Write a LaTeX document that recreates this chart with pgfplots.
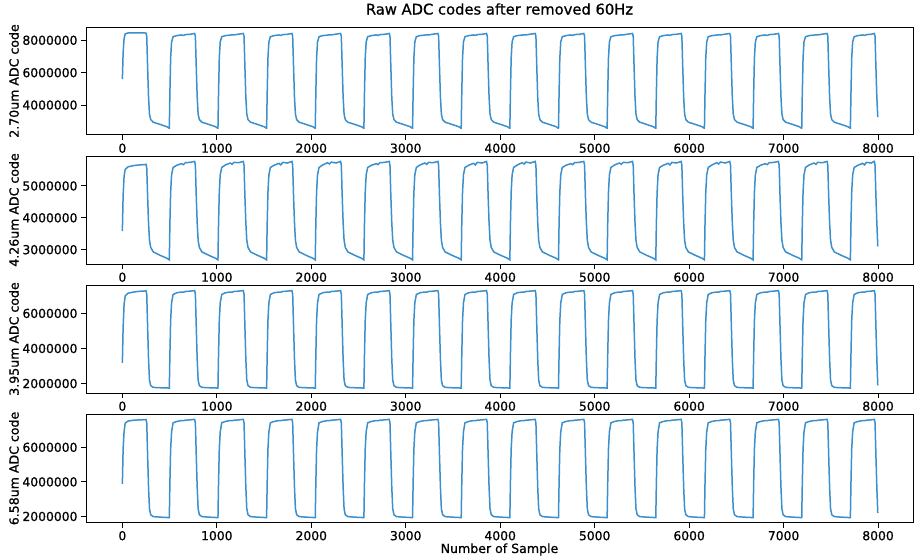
\documentclass[border=0pt]{standalone}
\usepackage{fontspec}
\setmainfont{DejaVu Sans}[RawFeature={embolden=0.8}]
\usepackage{pgfplots}
\pgfplotsset{compat=1.18}
\usepackage{pgfplotstable}
\definecolor{mplblue}{HTML}{3A8FCC}

% x = sample index; a..d = raw ADC codes of the four channels
\pgfplotstableread{
x a b c d
0 5600000 3580000 3180000 3880000
8 7200000 4700000 5200000 5900000
18 8100000 5300000 6500000 6900000
30 8400000 5520000 7000000 7400000
60 8450000 5600000 7150000 7520000
120 8450000 5640000 7220000 7570000
180 8450000 5660000 7260000 7590000
240 8450000 5670000 7280000 7600000
250 8440000 5680000 7290000 7610000
258 8250000 5570000 7100000 7420000
267 6400000 4700000 5300000 5600000
277 4500000 3850000 3400000 3700000
287 3450000 3300000 2200000 2450000
300 3100000 3070000 1880000 2100000
327 2940000 2930000 1780000 1990000
402 2800000 2820000 1760000 1960000
472 2660000 2730000 1750000 1940000
492 2580000 2690000 1740000 1930000
497 2580000 2680000 1740000 1930000
503 4700000 3800000 3600000 3900000
511 6900000 4800000 5600000 5900000
521 7900000 5350000 6600000 6900000
537 8220000 5580000 7080000 7420000
577 8290000 5650000 7180000 7500000
627 8330000 5700000 7220000 7550000
647 8300000 5670000 7210000 7540000
667 8350000 5730000 7250000 7570000
717 8370000 5740000 7270000 7590000
765 8420000 5770000 7300000 7620000
773 8250000 5650000 7100000 7420000
782 6400000 4700000 5300000 5600000
792 4500000 3850000 3400000 3700000
802 3450000 3300000 2200000 2450000
815 3100000 3070000 1880000 2100000
842 2940000 2930000 1780000 1990000
917 2800000 2820000 1760000 1960000
987 2660000 2730000 1750000 1940000
1007 2580000 2690000 1740000 1930000
1012 2580000 2680000 1740000 1930000
1018 4700000 3800000 3600000 3900000
1026 6900000 4800000 5600000 5900000
1036 7900000 5350000 6600000 6900000
1052 8220000 5580000 7080000 7420000
1092 8290000 5660000 7180000 7500000
1142 8320000 5720000 7220000 7550000
1162 8340000 5680000 7210000 7540000
1182 8330000 5740000 7250000 7570000
1232 8380000 5730000 7270000 7590000
1280 8420000 5770000 7300000 7620000
1288 8250000 5650000 7100000 7420000
1297 6400000 4700000 5300000 5600000
1307 4500000 3850000 3400000 3700000
1317 3450000 3300000 2200000 2450000
1330 3100000 3070000 1880000 2100000
1357 2940000 2930000 1780000 1990000
1432 2800000 2820000 1760000 1960000
1502 2660000 2730000 1750000 1940000
1522 2580000 2690000 1740000 1930000
1527 2580000 2680000 1740000 1930000
1533 4700000 3800000 3600000 3900000
1541 6900000 4800000 5600000 5900000
1551 7900000 5350000 6600000 6900000
1567 8220000 5580000 7080000 7420000
1607 8290000 5650000 7180000 7500000
1657 8330000 5710000 7220000 7550000
1677 8300000 5660000 7210000 7540000
1697 8350000 5740000 7250000 7570000
1747 8370000 5720000 7270000 7590000
1795 8420000 5770000 7300000 7620000
1803 8250000 5650000 7100000 7420000
1812 6400000 4700000 5300000 5600000
1822 4500000 3850000 3400000 3700000
1832 3450000 3300000 2200000 2450000
1845 3100000 3070000 1880000 2100000
1872 2940000 2930000 1780000 1990000
1947 2800000 2820000 1760000 1960000
2017 2660000 2730000 1750000 1940000
2037 2580000 2690000 1740000 1930000
2042 2580000 2680000 1740000 1930000
2048 4700000 3800000 3600000 3900000
2056 6900000 4800000 5600000 5900000
2066 7900000 5350000 6600000 6900000
2082 8220000 5580000 7080000 7420000
2122 8290000 5660000 7180000 7500000
2172 8320000 5730000 7220000 7550000
2192 8340000 5690000 7210000 7540000
2212 8330000 5750000 7250000 7570000
2262 8380000 5720000 7270000 7590000
2310 8420000 5770000 7300000 7620000
2318 8250000 5650000 7100000 7420000
2327 6400000 4700000 5300000 5600000
2337 4500000 3850000 3400000 3700000
2347 3450000 3300000 2200000 2450000
2360 3100000 3070000 1880000 2100000
2387 2940000 2930000 1780000 1990000
2462 2800000 2820000 1760000 1960000
2532 2660000 2730000 1750000 1940000
2552 2580000 2690000 1740000 1930000
2557 2580000 2680000 1740000 1930000
2563 4700000 3800000 3600000 3900000
2571 6900000 4800000 5600000 5900000
2581 7900000 5350000 6600000 6900000
2597 8220000 5580000 7080000 7420000
2637 8290000 5650000 7180000 7500000
2687 8330000 5700000 7220000 7550000
2707 8300000 5670000 7210000 7540000
2727 8350000 5730000 7250000 7570000
2777 8370000 5740000 7270000 7590000
2825 8420000 5770000 7300000 7620000
2833 8250000 5650000 7100000 7420000
2842 6400000 4700000 5300000 5600000
2852 4500000 3850000 3400000 3700000
2862 3450000 3300000 2200000 2450000
2875 3100000 3070000 1880000 2100000
2902 2940000 2930000 1780000 1990000
2977 2800000 2820000 1760000 1960000
3047 2660000 2730000 1750000 1940000
3067 2580000 2690000 1740000 1930000
3072 2580000 2680000 1740000 1930000
3078 4700000 3800000 3600000 3900000
3086 6900000 4800000 5600000 5900000
3096 7900000 5350000 6600000 6900000
3112 8220000 5580000 7080000 7420000
3152 8290000 5660000 7180000 7500000
3202 8320000 5720000 7220000 7550000
3222 8340000 5680000 7210000 7540000
3242 8330000 5740000 7250000 7570000
3292 8380000 5730000 7270000 7590000
3340 8420000 5770000 7300000 7620000
3348 8250000 5650000 7100000 7420000
3357 6400000 4700000 5300000 5600000
3367 4500000 3850000 3400000 3700000
3377 3450000 3300000 2200000 2450000
3390 3100000 3070000 1880000 2100000
3417 2940000 2930000 1780000 1990000
3492 2800000 2820000 1760000 1960000
3562 2660000 2730000 1750000 1940000
3582 2580000 2690000 1740000 1930000
3587 2580000 2680000 1740000 1930000
3593 4700000 3800000 3600000 3900000
3601 6900000 4800000 5600000 5900000
3611 7900000 5350000 6600000 6900000
3627 8220000 5580000 7080000 7420000
3667 8290000 5650000 7180000 7500000
3717 8330000 5710000 7220000 7550000
3737 8300000 5660000 7210000 7540000
3757 8350000 5740000 7250000 7570000
3807 8370000 5720000 7270000 7590000
3855 8420000 5770000 7300000 7620000
3863 8250000 5650000 7100000 7420000
3872 6400000 4700000 5300000 5600000
3882 4500000 3850000 3400000 3700000
3892 3450000 3300000 2200000 2450000
3905 3100000 3070000 1880000 2100000
3932 2940000 2930000 1780000 1990000
4007 2800000 2820000 1760000 1960000
4077 2660000 2730000 1750000 1940000
4097 2580000 2690000 1740000 1930000
4102 2580000 2680000 1740000 1930000
4108 4700000 3800000 3600000 3900000
4116 6900000 4800000 5600000 5900000
4126 7900000 5350000 6600000 6900000
4142 8220000 5580000 7080000 7420000
4182 8290000 5660000 7180000 7500000
4232 8320000 5730000 7220000 7550000
4252 8340000 5690000 7210000 7540000
4272 8330000 5750000 7250000 7570000
4322 8380000 5720000 7270000 7590000
4370 8420000 5770000 7300000 7620000
4378 8250000 5650000 7100000 7420000
4387 6400000 4700000 5300000 5600000
4397 4500000 3850000 3400000 3700000
4407 3450000 3300000 2200000 2450000
4420 3100000 3070000 1880000 2100000
4447 2940000 2930000 1780000 1990000
4522 2800000 2820000 1760000 1960000
4592 2660000 2730000 1750000 1940000
4612 2580000 2690000 1740000 1930000
4617 2580000 2680000 1740000 1930000
4623 4700000 3800000 3600000 3900000
4631 6900000 4800000 5600000 5900000
4641 7900000 5350000 6600000 6900000
4657 8220000 5580000 7080000 7420000
4697 8290000 5650000 7180000 7500000
4747 8330000 5700000 7220000 7550000
4767 8300000 5670000 7210000 7540000
4787 8350000 5730000 7250000 7570000
4837 8370000 5740000 7270000 7590000
4885 8420000 5770000 7300000 7620000
4893 8250000 5650000 7100000 7420000
4902 6400000 4700000 5300000 5600000
4912 4500000 3850000 3400000 3700000
4922 3450000 3300000 2200000 2450000
4935 3100000 3070000 1880000 2100000
4962 2940000 2930000 1780000 1990000
5037 2800000 2820000 1760000 1960000
5107 2660000 2730000 1750000 1940000
5127 2580000 2690000 1740000 1930000
5132 2580000 2680000 1740000 1930000
5138 4700000 3800000 3600000 3900000
5146 6900000 4800000 5600000 5900000
5156 7900000 5350000 6600000 6900000
5172 8220000 5580000 7080000 7420000
5212 8290000 5660000 7180000 7500000
5262 8320000 5720000 7220000 7550000
5282 8340000 5680000 7210000 7540000
5302 8330000 5740000 7250000 7570000
5352 8380000 5730000 7270000 7590000
5400 8420000 5770000 7300000 7620000
5408 8250000 5650000 7100000 7420000
5417 6400000 4700000 5300000 5600000
5427 4500000 3850000 3400000 3700000
5437 3450000 3300000 2200000 2450000
5450 3100000 3070000 1880000 2100000
5477 2940000 2930000 1780000 1990000
5552 2800000 2820000 1760000 1960000
5622 2660000 2730000 1750000 1940000
5642 2580000 2690000 1740000 1930000
5647 2580000 2680000 1740000 1930000
5653 4700000 3800000 3600000 3900000
5661 6900000 4800000 5600000 5900000
5671 7900000 5350000 6600000 6900000
5687 8220000 5580000 7080000 7420000
5727 8290000 5650000 7180000 7500000
5777 8330000 5710000 7220000 7550000
5797 8300000 5660000 7210000 7540000
5817 8350000 5740000 7250000 7570000
5867 8370000 5720000 7270000 7590000
5915 8420000 5770000 7300000 7620000
5923 8250000 5650000 7100000 7420000
5932 6400000 4700000 5300000 5600000
5942 4500000 3850000 3400000 3700000
5952 3450000 3300000 2200000 2450000
5965 3100000 3070000 1880000 2100000
5992 2940000 2930000 1780000 1990000
6067 2800000 2820000 1760000 1960000
6137 2660000 2730000 1750000 1940000
6157 2580000 2690000 1740000 1930000
6162 2580000 2680000 1740000 1930000
6168 4700000 3800000 3600000 3900000
6176 6900000 4800000 5600000 5900000
6186 7900000 5350000 6600000 6900000
6202 8220000 5580000 7080000 7420000
6242 8290000 5660000 7180000 7500000
6292 8320000 5730000 7220000 7550000
6312 8340000 5690000 7210000 7540000
6332 8330000 5750000 7250000 7570000
6382 8380000 5720000 7270000 7590000
6430 8420000 5770000 7300000 7620000
6438 8250000 5650000 7100000 7420000
6447 6400000 4700000 5300000 5600000
6457 4500000 3850000 3400000 3700000
6467 3450000 3300000 2200000 2450000
6480 3100000 3070000 1880000 2100000
6507 2940000 2930000 1780000 1990000
6582 2800000 2820000 1760000 1960000
6652 2660000 2730000 1750000 1940000
6672 2580000 2690000 1740000 1930000
6677 2580000 2680000 1740000 1930000
6683 4700000 3800000 3600000 3900000
6691 6900000 4800000 5600000 5900000
6701 7900000 5350000 6600000 6900000
6717 8220000 5580000 7080000 7420000
6757 8290000 5650000 7180000 7500000
6807 8330000 5700000 7220000 7550000
6827 8300000 5670000 7210000 7540000
6847 8350000 5730000 7250000 7570000
6897 8370000 5740000 7270000 7590000
6945 8420000 5770000 7300000 7620000
6953 8250000 5650000 7100000 7420000
6962 6400000 4700000 5300000 5600000
6972 4500000 3850000 3400000 3700000
6982 3450000 3300000 2200000 2450000
6995 3100000 3070000 1880000 2100000
7022 2940000 2930000 1780000 1990000
7097 2800000 2820000 1760000 1960000
7167 2660000 2730000 1750000 1940000
7187 2580000 2690000 1740000 1930000
7192 2580000 2680000 1740000 1930000
7198 4700000 3800000 3600000 3900000
7206 6900000 4800000 5600000 5900000
7216 7900000 5350000 6600000 6900000
7232 8220000 5580000 7080000 7420000
7272 8290000 5660000 7180000 7500000
7322 8320000 5720000 7220000 7550000
7342 8340000 5680000 7210000 7540000
7362 8330000 5740000 7250000 7570000
7412 8380000 5730000 7270000 7590000
7460 8420000 5770000 7300000 7620000
7468 8250000 5650000 7100000 7420000
7477 6400000 4700000 5300000 5600000
7487 4500000 3850000 3400000 3700000
7497 3450000 3300000 2200000 2450000
7510 3100000 3070000 1880000 2100000
7537 2940000 2930000 1780000 1990000
7612 2800000 2820000 1760000 1960000
7682 2660000 2730000 1750000 1940000
7702 2580000 2690000 1740000 1930000
7707 2580000 2680000 1740000 1930000
7713 4700000 3800000 3600000 3900000
7721 6900000 4800000 5600000 5900000
7731 7900000 5350000 6600000 6900000
7747 8220000 5580000 7080000 7420000
7787 8290000 5650000 7180000 7500000
7837 8330000 5710000 7220000 7550000
7857 8300000 5660000 7210000 7540000
7877 8350000 5740000 7250000 7570000
7927 8370000 5720000 7270000 7590000
7960 8420000 5770000 7300000 7620000
7968 8250000 5650000 7100000 7420000
7977 6400000 4700000 5300000 5600000
7987 4500000 3850000 3400000 3700000
7997 3250000 3100000 1900000 2200000
}\adcdata

\pgfplotsset{
  panel/.style={
    scale only axis, width=827bp, height=108bp,
    anchor=north west,
    xmin=-385, xmax=8370,
    xtick={0,1000,...,8000},
    xticklabels={0,1000,2000,3000,4000,5000,6000,7000,8000},
    scaled x ticks=false, scaled y ticks=false,
    tick align=outside, tick pos=left,
    major tick length=5bp,
    every tick/.style={black, line width=0.9bp},
    axis line style={black, line width=1bp},
    ticklabel style={font=\fontsize{12.4}{14}\selectfont},
    label style={font=\fontsize{12.6}{14}\selectfont},
    ylabel style={at={(axis description cs:-0.0871,0.5)}, anchor=center},
    xlabel style={at={(axis description cs:0.5,0)}, anchor=center, yshift=-27bp},
    /pgf/number format/assume math mode=true,
  },
  trace/.style={mplblue, line width=1.5bp, no markers},
}

\begin{document}
\begin{tikzpicture}
\useasboundingbox (0,0) rectangle (915bp,-557bp);

\begin{axis}[panel, at={(86bp,-27bp)},
  ymin=2150000, ymax=8820000,
  ytick={4000000,6000000,8000000},
  yticklabels={4000000,6000000,8000000},
  ylabel={2.70um ADC code},
  title={Raw ADC codes after removed 60Hz},
  title style={font=\fontsize{14.8}{17}\selectfont, at={(axis description cs:0.5,1)}, anchor=base, yshift=6.5bp}]
\addplot[trace] table[x=x, y=a] {\adcdata};
\end{axis}

\begin{axis}[panel, at={(86bp,-156bp)},
  ymin=2550000, ymax=5940000,
  ytick={3000000,4000000,5000000},
  yticklabels={3000000,4000000,5000000},
  ylabel={4.26um ADC code}]
\addplot[trace] table[x=x, y=b] {\adcdata};
\end{axis}

\begin{axis}[panel, at={(86bp,-285bp)},
  ymin=1460000, ymax=7620000,
  ytick={2000000,4000000,6000000},
  yticklabels={2000000,4000000,6000000},
  ylabel={3.95um ADC code}]
\addplot[trace] table[x=x, y=c] {\adcdata};
\end{axis}

\begin{axis}[panel, at={(86bp,-414.5bp)},
  ymin=1650000, ymax=7900000,
  ytick={2000000,4000000,6000000},
  yticklabels={2000000,4000000,6000000},
  ylabel={6.58um ADC code},
  xlabel={Number of Sample}]
\addplot[trace] table[x=x, y=d] {\adcdata};
\end{axis}
\end{tikzpicture}
\end{document}
